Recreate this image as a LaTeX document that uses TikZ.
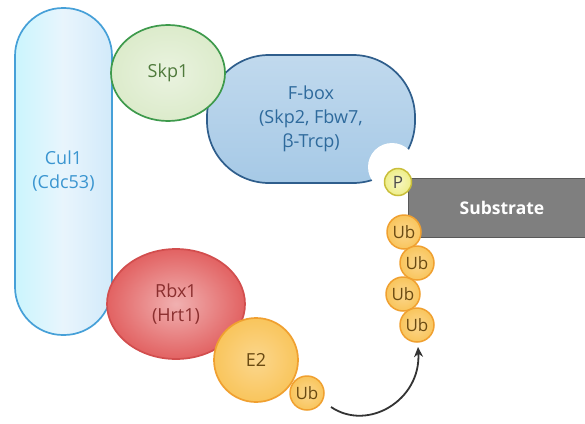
\documentclass[tikz,border=0pt]{standalone}
\usepackage{fontspec}
\setmainfont{Open Sans}
\usetikzlibrary{arrows.meta,shapes.geometric}
\definecolor{culfill}{HTML}{D2EAFA}
\definecolor{culedge}{HTML}{46A0D8}
\definecolor{cultext}{HTML}{3A95D0}
\definecolor{skpfill}{HTML}{DCEBCB}
\definecolor{skpedge}{HTML}{3E9A4C}
\definecolor{skptext}{HTML}{4F7A3C}
\definecolor{fbfill}{HTML}{A6C9E6}
\definecolor{fbedge}{HTML}{2F5E8C}
\definecolor{fbtext}{HTML}{2E6A9C}
\definecolor{rbxfill}{HTML}{E26262}
\definecolor{rbxedge}{HTML}{D24E4E}
\definecolor{rbxtext}{HTML}{8A2E2E}
\definecolor{e2fill}{HTML}{F9C55C}
\definecolor{e2edge}{HTML}{F0A030}
\definecolor{e2text}{HTML}{6A4A12}
\definecolor{pfill}{HTML}{EEEE88}
\definecolor{pedge}{HTML}{C9BE3A}
\definecolor{subfill}{HTML}{7F7F7F}
\tikzset{
  x=1pt, y=-1pt,
  protein/.style={line width=1.7pt, align=center, font=\fontsize{18}{24}\selectfont, inner sep=0pt},
  ubball/.style={circle, minimum size=34pt, inner sep=0pt, line width=1.5pt, draw=e2edge,
    inner color=e2fill!70!white, outer color=e2fill, text=e2text, font=\fontsize{17}{19}\selectfont},
}
\begin{document}
\begin{tikzpicture}
\useasboundingbox (0,0) rectangle (585,423);
\fill[white] (0,0) rectangle (585,423);

% Cullin scaffold
\node[protein, rectangle, rounded corners=48pt, minimum width=97pt, minimum height=327pt,
  draw=culedge, left color=culfill!80!cyan!60, right color=culfill, middle color=white!50!culfill,
  text=cultext] (cul) at (63.5,171.5) {Cul1\\(Cdc53)};

% F-box protein
\node[protein, rectangle, rounded corners=62pt, minimum width=208pt, minimum height=128pt,
  draw=fbedge, top color=fbfill!70!white, bottom color=fbfill, text=fbtext] (fbox) at (311,119)
  {F-box\\(Skp2, Fbw7,\\β-Trcp)};

% Skp1 adaptor
\node[protein, ellipse, minimum width=114pt, minimum height=96pt, draw=skpedge,
  inner color=skpfill!60!white, outer color=skpfill, text=skptext] (skp) at (168,73) {Skp1};

% notch where the substrate docks
\fill[white] (392,167) circle[radius=24];

% Substrate
\node[rectangle, minimum width=180pt, minimum height=59pt, fill=subfill, draw=subfill!70!black,
  line width=0.6pt, text=white, font=\bfseries\fontsize{17.5}{22}\selectfont, inner sep=0pt]
  (sub) at (498,207.5) {\hspace{8pt}Substrate};

% phosphate
\node[circle, minimum size=27pt, inner sep=0pt, line width=1.5pt, draw=pedge,
  inner color=pfill!50!white, outer color=pfill, text=black!70, font=\fontsize{17}{19}\selectfont]
  (p) at (398,182) {P};

% polyubiquitin chain
\node[ubball] (ub1) at (404,232) {Ub};
\node[ubball] (ub2) at (417,263) {Ub};
\node[ubball] (ub3) at (403,294) {Ub};
\node[ubball] (ub4) at (417,325) {Ub};

% Rbx1 RING protein
\node[protein, ellipse, minimum width=138pt, minimum height=110pt, draw=rbxedge,
  inner color=rbxfill!50!white, outer color=rbxfill, text=rbxtext] (rbx) at (176,304) {Rbx1\\(Hrt1)};

% E2 enzyme and its ubiquitin
\node[protein, circle, minimum size=84pt, draw=e2edge, inner color=e2fill!70!white,
  outer color=e2fill, text=e2text] (e2) at (256,360) {E2};
\node[ubball] (ube2) at (307,393) {Ub};

% transfer of ubiquitin to the substrate
\coordinate (from) at (331,407);
\coordinate (to) at (418,347);
\draw[line width=1.8pt, black!80, -{Stealth[length=10pt,width=9pt]}]
  (from) .. controls (368,432) and (421,400) .. (to);
\end{tikzpicture}
\end{document}
